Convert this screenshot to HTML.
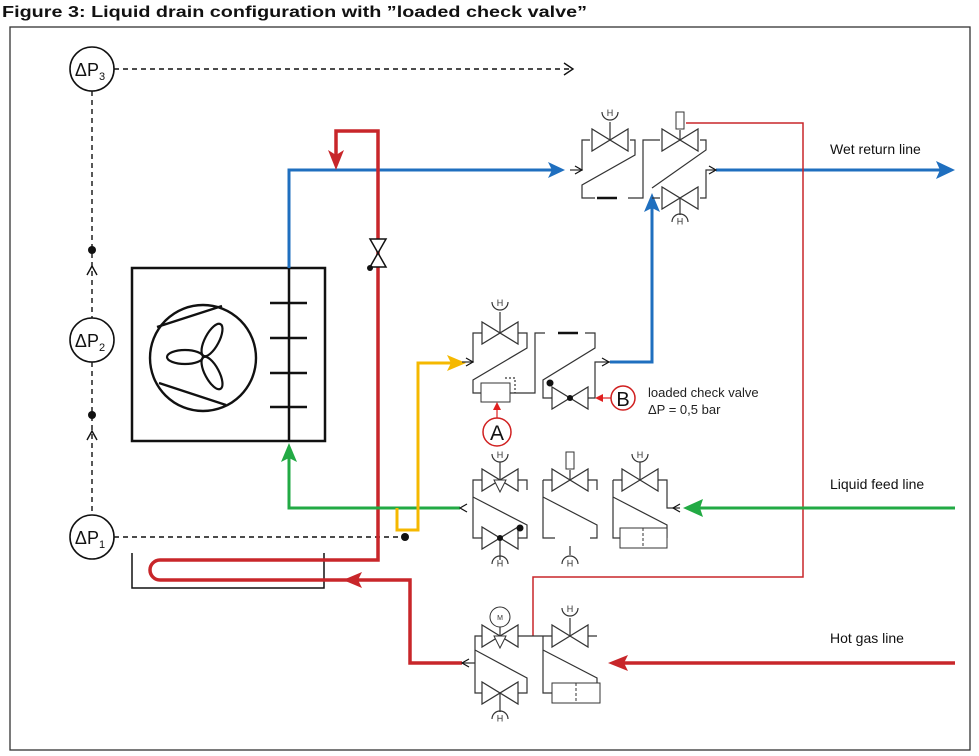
<!DOCTYPE html>
<html><head><meta charset="utf-8"><style>
body{margin:0;background:#fff;width:979px;height:756px;overflow:hidden}
svg{display:block;font-family:"Liberation Sans",sans-serif}
</style></head><body>
<svg width="979" height="756" viewBox="0 0 979 756">
<defs>
<path id="v" d="M-18,-11 L-18,11 L18,-11 L18,11 Z" fill="#fff" stroke="#333" stroke-width="1.2"/>
<g id="h"><path d="M-8,-6 A8,8 0 0 0 8,-6" fill="none" stroke="#333" stroke-width="1.2"/><text x="0" y="-2" font-size="9" text-anchor="middle" fill="#333">H</text></g>
</defs>
<text x="2" y="17" font-size="16" font-weight="bold" fill="#111" textLength="585" lengthAdjust="spacingAndGlyphs">Figure 3: Liquid drain configuration with ”loaded check valve”</text>
<rect x="10" y="27" width="960" height="723" fill="none" stroke="#333" stroke-width="1.3"/>

<g stroke="#111" stroke-width="1.4" stroke-dasharray="5,4" fill="none">
<line x1="92" y1="91" x2="92" y2="318"/><line x1="92" y1="362" x2="92" y2="515"/>
<line x1="114" y1="69" x2="572" y2="69"/><line x1="114" y1="537" x2="405" y2="537"/>
</g>
<g stroke="#111" stroke-width="1.4" fill="none">
<path d="M564,63 L573,69 L564,75"/><path d="M87,275 L92,266 L97,275"/><path d="M87,440 L92,431 L97,440"/>
</g>
<g fill="#111"><circle cx="92" cy="250" r="4"/><circle cx="92" cy="415" r="4"/><circle cx="405" cy="537" r="4"/></g>
<g fill="#fff" stroke="#111" stroke-width="1.6">
<circle cx="92" cy="69" r="22"/><circle cx="92" cy="340" r="22"/><circle cx="92" cy="537" r="22"/></g>
<g font-size="18" fill="#111" text-anchor="middle">
<text x="90" y="76">ΔP<tspan font-size="11" dy="4">3</tspan></text>
<text x="90" y="347">ΔP<tspan font-size="11" dy="4">2</tspan></text>
<text x="90" y="544">ΔP<tspan font-size="11" dy="4">1</tspan></text></g>

<rect x="132" y="268" width="193" height="173" fill="none" stroke="#111" stroke-width="2.5"/>
<circle cx="203" cy="358" r="53" fill="none" stroke="#111" stroke-width="2.4"/>
<path d="M157,327 L222,306 M159,383 L226,405" stroke="#111" stroke-width="2.4"/>
<g fill="none" stroke="#111" stroke-width="2.2">
<ellipse cx="185" cy="357" rx="18" ry="7"/>
<ellipse cx="212" cy="340" rx="18" ry="7" transform="rotate(-62 212 340)"/>
<ellipse cx="212" cy="373" rx="18" ry="7" transform="rotate(62 212 373)"/></g>
<g stroke="#111" stroke-width="2.5"><line x1="289" y1="268" x2="289" y2="441"/>
<line x1="270" y1="303" x2="307" y2="303"/><line x1="270" y1="338" x2="307" y2="338"/><line x1="270" y1="373" x2="307" y2="373"/><line x1="270" y1="407" x2="307" y2="407"/></g>
<path d="M132,553 V588 H324 V553" fill="none" stroke="#111" stroke-width="1.5"/>

<g stroke="#1f6fbf" stroke-width="3" fill="none">
<path d="M289,268 V170 H555"/><path d="M716,170 H940"/><path d="M610,362 H652 V205"/></g>
<g fill="#1f6fbf"><path d="M565,170 L548,162 L552,170 L548,178Z"/><path d="M955,170 L936,161 L940,170 L936,179Z"/><path d="M652,193 L644,212 L652,208 L660,212Z"/></g>

<g stroke="#c8262a" stroke-width="3.5" fill="none">
<path d="M336,155 V131 H378 V560 H160 A10,10 0 0 0 160,580 H410 V663 H462"/>
<path d="M955,663 H620"/></g>
<g fill="#c8262a"><path d="M336,170 L328,150 L336,155 L344,150Z"/><path d="M343,580 L362,572 L358,580 L362,588Z"/><path d="M608,663 L628,655 L624,663 L628,671Z"/></g>
<path d="M686,123 H803 V577 H533 V636" fill="none" stroke="#c8262a" stroke-width="1.5"/>
<g transform="translate(378,253) rotate(90)"><path d="M-14,-8 L-14,8 L14,-8 L14,8 Z" fill="#fff" stroke="#111" stroke-width="1.5"/></g>
<circle cx="370" cy="268" r="3" fill="#111"/>

<g stroke="#22aa44" stroke-width="3" fill="none"><path d="M289,458 V508 H460"/><path d="M700,508 H955"/></g>
<path d="M289,443 L281,462 L289,458 L297,462Z" fill="#22aa44"/>
<path d="M683,508 L703,499 L700,508 L703,517Z" fill="#22aa44"/>

<path d="M397,508 V530 H418 V363 H455" fill="none" stroke="#f5b800" stroke-width="3"/>
<path d="M466,363 L447,355 L451,363 L447,371Z" fill="#f5b800"/>

<g stroke="#333" stroke-width="1.2" fill="none">
<path d="M570,170 H582 V140 H590 M630,140 H635 V155 L582,185 V198 H595 M628,198 H643 V140 H660 M700,140 H706 V150 L652,188 M660,198 H652 M700,198 H706 V170 H716"/>
<path d="M610,140 V122 M680,140 V130 M680,198 V215"/>
<path d="M462,362 H473 V333 H482 M518,333 H527 V348 L473,380 V393 H481 M510,393 H535 V333 H545 M585,333 H595 V348 L543,380 V398 H552 M588,398 H595 V362 H610"/>
<path d="M500,333 V312"/>
<path d="M505,378 H515 V393" stroke-dasharray="2,2"/>
<path d="M473,508 V480 H482 M518,480 H527 V490 M473,508 V538 H482 M518,538 H527 V525 L473,497 M543,480 H552 M588,480 H597 V490 M543,497 L597,525 V538 H590 M543,480 V538 H555 M570,546 V555 M613,480 H622 M658,480 H667 V508 H680 M613,480 V538 H620 M613,497 L667,525 V538 M500,480 V462 M570,480 V470 M640,480 V462 M500,538 V560"/>
<path d="M462,663 H475 V636 H482 M518,636 H533 H552 M475,663 V693 H482 M518,693 H527 V678 L475,650 M588,636 H597 M543,636 V693 H552 M543,650 L597,678 V693 H600 M500,636 V627 M570,636 V618 M500,693 V712"/>
</g>
<g font-size="9" fill="#333">
<use href="#v" x="610" y="140"/><use href="#v" x="680" y="140"/><use href="#v" x="680" y="198"/>
<use href="#h" x="610" y="118"/><use href="#h" x="680" y="226" transform="rotate(180 680 221)"/>
<rect x="676" y="112" width="8" height="17" fill="#fff" stroke="#333"/>
<line x1="597" y1="198" x2="617" y2="198" stroke="#111" stroke-width="2.5"/>
<line x1="558" y1="333" x2="578" y2="333" stroke="#111" stroke-width="2.5"/>
<use href="#v" x="500" y="333"/><use href="#h" x="500" y="308"/>
<rect x="481" y="383" width="29" height="19" fill="#fff" stroke="#333"/>
<use href="#v" x="570" y="398"/>
<circle cx="570" cy="398" r="3" fill="#111"/><circle cx="550" cy="383" r="3.5" fill="#111"/>
<use href="#v" x="500" y="480"/><path d="M494,480 L506,480 L500,492Z" fill="#fff" stroke="#333"/>
<use href="#v" x="500" y="538"/><circle cx="500" cy="538" r="3" fill="#111"/><circle cx="520" cy="528" r="3.5" fill="#111"/>
<use href="#h" x="500" y="460"/><use href="#h" x="500" y="568" transform="rotate(180 500 563)"/>
<use href="#v" x="570" y="480"/><rect x="566" y="452" width="8" height="17" fill="#fff" stroke="#333"/>
<use href="#h" x="570" y="568" transform="rotate(180 570 563)"/>
<use href="#v" x="640" y="480"/><use href="#h" x="640" y="460"/>
<rect x="620" y="528" width="47" height="20" fill="#fff" stroke="#333"/><line x1="643" y1="528" x2="643" y2="548" stroke="#333" stroke-dasharray="3,2"/>
<use href="#v" x="500" y="636"/><path d="M494,636 L506,636 L500,648Z" fill="#fff" stroke="#333"/>
<circle cx="500" cy="617" r="10" fill="#fff" stroke="#333"/><text x="500" y="620" text-anchor="middle" font-size="7">M</text>
<use href="#v" x="500" y="693"/><use href="#h" x="500" y="723" transform="rotate(180 500 718)"/>
<use href="#v" x="570" y="636"/><use href="#h" x="570" y="614"/>
<rect x="552" y="683" width="48" height="20" fill="#fff" stroke="#333"/><line x1="576" y1="683" x2="576" y2="703" stroke="#333" stroke-dasharray="3,2"/>
</g>
<g stroke="#111" stroke-width="1.2" fill="none">
<path d="M575,166 L582,170 L575,174"/><path d="M709,166 L716,170 L709,174"/><path d="M466,358 L473,362 L466,366"/><path d="M602,358 L609,362 L602,366"/>
<path d="M467,504 L460,508 L467,512"/><path d="M680,504 L673,508 L680,512"/><path d="M469,659 L462,663 L469,667"/></g>

<line x1="497" y1="418" x2="497" y2="408" stroke="#e02020" stroke-width="1.2"/><path d="M497,402 L493,410 L501,410Z" fill="#e02020"/>
<circle cx="497" cy="432" r="14" fill="#fff" stroke="#d02020" stroke-width="1.5"/>
<text x="497" y="440" font-size="21" text-anchor="middle" fill="#111">A</text>
<line x1="611" y1="398" x2="602" y2="398" stroke="#e02020" stroke-width="1.2"/><path d="M595,398 L603,394 L603,402Z" fill="#e02020"/>
<circle cx="623" cy="398" r="12" fill="#fff" stroke="#d02020" stroke-width="1.5"/>
<text x="623" y="406" font-size="20" text-anchor="middle" fill="#111">B</text>
<g font-size="13" fill="#222">
<text x="648" y="397">loaded check valve</text><text x="648" y="414">ΔP = 0,5 bar</text></g>
<g font-size="14" fill="#111">
<text x="830" y="154">Wet return line</text><text x="830" y="489">Liquid feed line</text><text x="830" y="643">Hot gas line</text></g>
</svg>
</body></html>
